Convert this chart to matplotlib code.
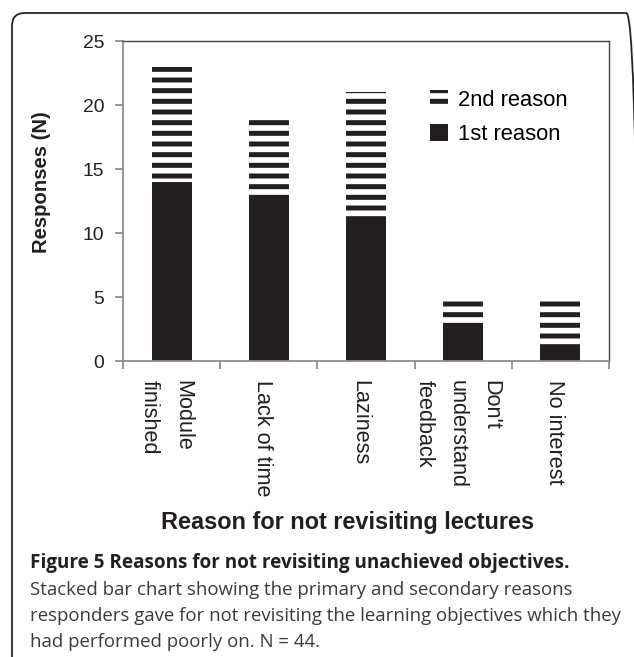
import matplotlib
matplotlib.use("Agg")
import matplotlib.pyplot as plt
from matplotlib.patches import Patch, FancyBboxPatch
import numpy as np

# data
reasons = ["Module\nfinished", "Lack of time", "Laziness",
           "Don't\nunderstand\nfeedback", "No interest"]
first_reason = [14, 13, 11, 3, 1]
second_reason = [9, 6, 10, 2, 4]
yticks = [0, 5, 10, 15, 20, 25]

caption_title = "Figure 5 Reasons for not revisiting unachieved objectives."
caption_lines = [
    "Stacked bar chart showing the primary and secondary reasons",
    "responders gave for not revisiting the learning objectives which they",
    "had performed poorly on. N = 44.",
]

DPI = 128
W, H = 634, 657
ink = "#231f20"

plt.rcParams["font.family"] = ["Liberation Sans", "DejaVu Sans"]
plt.rcParams["hatch.linewidth"] = 2.8

fig = plt.figure(figsize=(W / DPI, H / DPI), dpi=DPI)
ax = fig.add_axes([123 / W, 1 - 361 / H, (609 - 123) / W, (361 - 41) / H])

x = np.arange(len(reasons))
ax.bar(x, first_reason, width=0.41, color=ink, linewidth=0)
ax.bar(x, second_reason, width=0.41, bottom=first_reason, color="white",
       edgecolor=ink, hatch="--", linewidth=0)

ax.set_xlim(-0.5, len(reasons) - 0.5)
ax.set_ylim(0, 25)
ax.set_yticks(yticks)

# tick marks sit on the category boundaries, labels near the centres
# (the original sets them a touch left of the bars)
ax.set_xticks(np.arange(len(reasons) + 1) - 0.5)
ax.set_xticklabels([])
ax.set_xticks(x - 0.06, minor=True)
ax.set_xticklabels(reasons, minor=True, rotation=270, va="top", ha="center",
                   fontsize=12.2, color=ink, multialignment="left",
                   linespacing=1.75)
ax.tick_params(axis="x", which="minor", length=0, pad=10.5)
ax.tick_params(axis="x", which="major", length=4.5, width=1.0, color="#8c8c8c")
ax.tick_params(axis="y", length=4.5, width=1.0, color="#8c8c8c",
               labelsize=10.8, labelcolor=ink, pad=6)

for s in ["left", "bottom"]:
    ax.spines[s].set_color("#8c8c8c")
    ax.spines[s].set_linewidth(1.0)
for s in ["top", "right"]:
    ax.spines[s].set_color("#4a4a4a")
    ax.spines[s].set_linewidth(0.8)

ax.set_ylabel("Responses (N)", fontsize=11.4, fontweight="bold", color=ink)
ax.yaxis.set_label_coords((51 - 123) / (609 - 123), 0.56)

fig.text(348 / W, 1 - 523 / H, "Reason for not revisiting lectures",
         ha="center", va="center", fontsize=13.2, fontweight="bold", color=ink)

handles = [Patch(facecolor="white", edgecolor=ink, hatch="--", linewidth=0),
           Patch(facecolor=ink, linewidth=0)]
ax.legend(handles, ["2nd reason", "1st reason"], loc="upper left",
          bbox_to_anchor=(430 / W, 1 - 90 / H), bbox_transform=fig.transFigure,
          frameon=False, fontsize=12.4, handlelength=0.8, handleheight=0.8,
          handletextpad=0.45, labelspacing=0.6, borderpad=0, borderaxespad=0)

# caption under the chart
cap_font = ["Open Sans", "DejaVu Sans"]
fig.text(30 / W, 1 - 568 / H, caption_title, ha="left", va="baseline",
         fontsize=10.6, fontweight="bold", family=cap_font, color=ink)
for i, line in enumerate(caption_lines):
    fig.text(30 / W, 1 - (595 + 26 * i) / H, line, ha="left", va="baseline",
             fontsize=10.5, family=cap_font, color="#3a3a3a")

# rounded frame round the whole figure panel, right side runs off the edge
frame = FancyBboxPatch((12 / W, -0.05), 626 / W, 1.05 - 13 / H,
                       boxstyle="round,pad=0,rounding_size=0.02",
                       transform=fig.transFigure, facecolor="none",
                       edgecolor="#222222", linewidth=1.0, clip_on=False)
frame.set_width(627 / W)
fig.patches.append(frame)

fig.savefig("out.png", dpi=DPI)
